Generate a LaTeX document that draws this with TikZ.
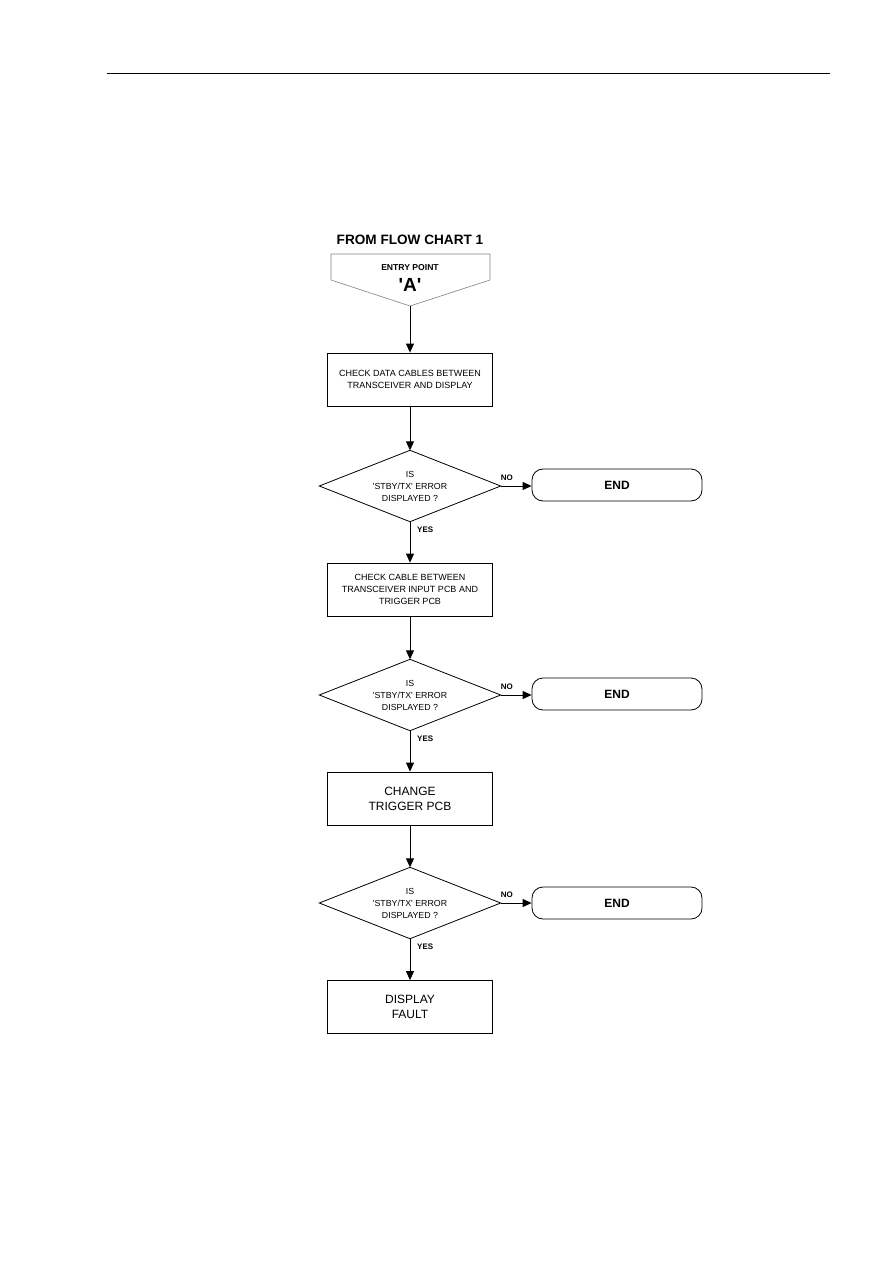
\documentclass[tikz,border=0pt]{standalone}
\usepackage{fontspec}
\setmainfont{Liberation Sans}
\usetikzlibrary{shapes.geometric,arrows.meta}
\newcommand{\sq}{\textquotesingle}
\begin{document}
\begin{tikzpicture}[x=1pt,y=-1pt,
  box/.style={draw,line width=0.8pt,minimum width=165pt,minimum height=53pt,align=center,inner sep=1pt},
  dec/.style={minimum width=181pt,minimum height=71pt,inner sep=0pt,align=center,font=\fontsize{8.8}{12}\selectfont},
  endbox/.style={draw,line width=0.8pt,rounded corners=11pt,minimum width=170pt,minimum height=32pt,font=\fontsize{12}{14}\bfseries\selectfont},
  arr/.style={-{Triangle[length=9pt,width=8pt]},line width=1pt},
  lbl/.style={font=\fontsize{8}{9}\bfseries\selectfont,inner sep=0pt,anchor=west}]
\useasboundingbox (0,0) rectangle (893,1263);
\draw[line width=0.9pt] (107,73) -- (830,73);
% entry
\node[font=\fontsize{13.6}{15}\bfseries\selectfont] (title) at (410,240) {FROM FLOW CHART 1};
\draw[gray,line width=0.6pt] (331,254) -- (490,254) -- (490,280) -- (410,306) -- (331,280) -- cycle;
\coordinate (entry) at (410,306);
\node[font=\fontsize{8.6}{9}\bfseries\selectfont] (ep) at (410,268) {ENTRY POINT};
\node[font=\fontsize{19}{20}\bfseries\selectfont] (a) at (410,285) {\sq A\sq};
% boxes
\node[box,font=\fontsize{9}{12}\selectfont] (b1) at (410,379.5) {CHECK DATA CABLES BETWEEN\\TRANSCEIVER AND DISPLAY};
\node[dec] (d1) at (410,486) {IS\\\sq STBY/TX\sq{} ERROR\\DISPLAYED ?};
\draw[line width=0.8pt] (d1.west) -- (d1.north) -- (d1.east) -- (d1.south) -- cycle;
\node[endbox] (e1) at (617,485) {END};
\node[box,font=\fontsize{9}{12}\selectfont] (b2) at (410,589.5) {CHECK CABLE BETWEEN\\TRANSCEIVER INPUT PCB AND\\TRIGGER PCB};
\node[dec] (d2) at (410,695) {IS\\\sq STBY/TX\sq{} ERROR\\DISPLAYED ?};
\draw[line width=0.8pt] (d2.west) -- (d2.north) -- (d2.east) -- (d2.south) -- cycle;
\node[endbox] (e2) at (617,694) {END};
\node[box,font=\fontsize{12}{15}\selectfont] (b3) at (410,798.5) {CHANGE\\TRIGGER PCB};
\node[dec] (d3) at (410,903) {IS\\\sq STBY/TX\sq{} ERROR\\DISPLAYED ?};
\draw[line width=0.8pt] (d3.west) -- (d3.north) -- (d3.east) -- (d3.south) -- cycle;
\node[endbox] (e3) at (617,903) {END};
\node[box,font=\fontsize{12}{15.5}\selectfont] (b4) at (410,1007) {DISPLAY\\FAULT};
% connectors
\draw[arr] (entry) -- (b1.north);
\draw[arr] (b1.south) -- (d1.north);
\draw[arr] (d1.east) -- (e1.west |- d1.east);
\node[lbl] (n1) at ([yshift=8pt]d1.east) {NO};
\draw[arr] (d1.south) -- (b2.north);
\node[lbl] (y1) at ([xshift=7pt,yshift=-8pt]d1.south) {YES};
\draw[arr] (b2.south) -- (d2.north);
\draw[arr] (d2.east) -- (e2.west |- d2.east);
\node[lbl] (n2) at ([yshift=8pt]d2.east) {NO};
\draw[arr] (d2.south) -- (b3.north);
\node[lbl] (y2) at ([xshift=7pt,yshift=-8pt]d2.south) {YES};
\draw[arr] (b3.south) -- (d3.north);
\draw[arr] (d3.east) -- (e3.west |- d3.east);
\node[lbl] (n3) at ([yshift=8pt]d3.east) {NO};
\draw[arr] (d3.south) -- (b4.north);
\node[lbl] (y3) at ([xshift=7pt,yshift=-8pt]d3.south) {YES};
\end{tikzpicture}
\end{document}
